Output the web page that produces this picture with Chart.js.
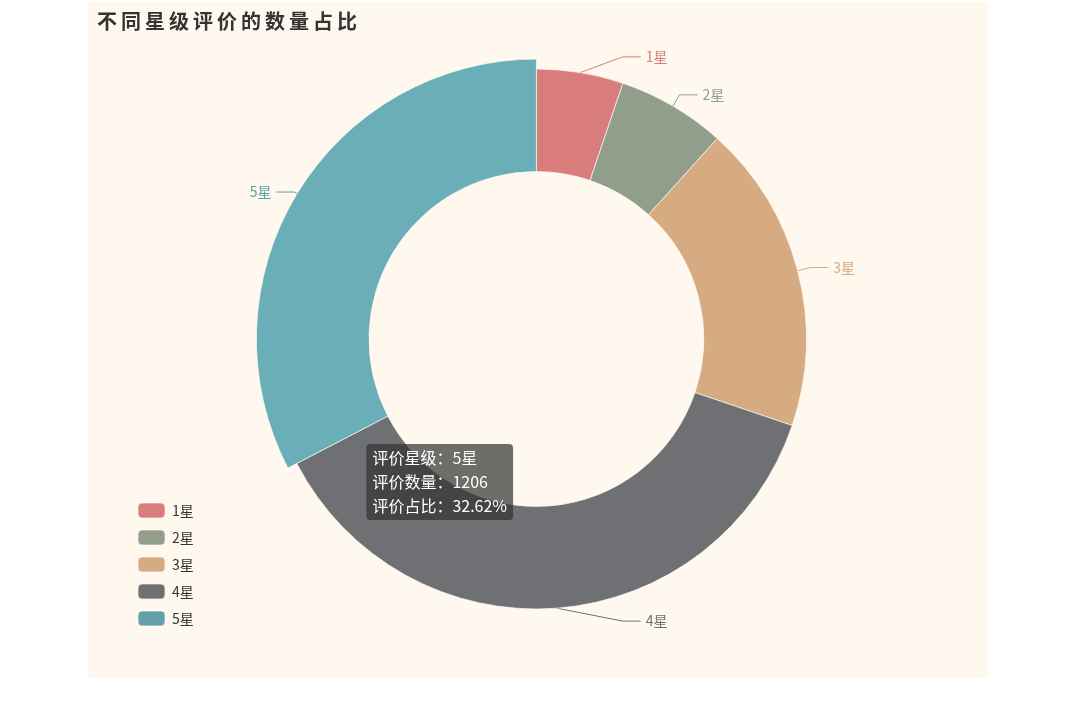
<!DOCTYPE html>
<html>
<head>
<meta charset="utf-8">
<script src="https://cdn.jsdelivr.net/npm/chart.js@4/dist/chart.umd.min.js"></script>
<style>
    body { margin: 0; background: #ffffff; }
    #box {
        position: absolute;
        left: 88px;
        top: 2px;
        width: 900px;
        height: 676px;
        background: rgb(254, 248, 239);
    }
</style>
</head>
<body>
<div id="box"><canvas id="pieChart"></canvas></div>
<script>
// data
const starLabels = ['1星', '2星', '3星', '4星', '5星'];
const reviewCounts = [192, 240, 684, 1375, 1206];

// vintage colours
const sliceColors = ['#d87c7c', '#919e8b', '#d7ab82', '#6e7074', '#61a0a8'];
const hoverColors = ['#e08c8b', '#a0ac9a', '#e0b991', '#7c7e82', '#6aafb7'];

const titleText = '不同星级评价的数量占比';
const highlightIndex = 4;

const total = reviewCounts.reduce((a, b) => a + b, 0);

// title drawn by hand so the letters can be spaced
const titlePlugin = {
    id: 'spacedTitle',
    afterDraw(chart) {
        const ctx = chart.ctx;
        ctx.save();
        ctx.font = 'bold 20px "Noto Sans CJK SC"';
        ctx.letterSpacing = '4px';
        ctx.fillStyle = '#333';
        ctx.textBaseline = 'middle';
        ctx.fillText(titleText, 9, 19);
        ctx.restore();
    }
};

// echarts-like outside labels with a bent leader line
const labelLinePlugin = {
    id: 'labelLines',
    afterDatasetsUpdate(chart) {
        // enlarge the highlighted slice like echarts emphasis
        const arc = chart.getDatasetMeta(0).data[highlightIndex];
        if (arc) arc.outerRadius = arc.outerRadius + 10;
    },
    beforeDatasetsDraw(chart) {
        const ctx = chart.ctx;
        const meta = chart.getDatasetMeta(0);
        const baseR = chart.data.datasets[0].radius;
        meta.data.forEach((arc, i) => {
            const p = arc.getProps(['x', 'y', 'startAngle', 'endAngle']);
            const mid = (p.startAngle + p.endAngle) / 2;
            // degrees clockwise from top
            let a = (mid + Math.PI / 2) * 180 / Math.PI;
            a = ((a % 360) + 360) % 360;
            let r2 = baseR + 13;
            let b = a;
            if (a < 180) {
                if (a < 17) { b = 17; r2 += 12; }
                if (a > 163) { b = 163; r2 += 12; }
            } else {
                if (a < 197) { b = 197; r2 += 12; }
                if (a > 343) { b = 343; r2 += 12; }
            }
            const sx = p.x + Math.sin(a * Math.PI / 180) * baseR;
            const sy = p.y - Math.cos(a * Math.PI / 180) * baseR;
            const ex = p.x + Math.sin(b * Math.PI / 180) * r2;
            const ey = p.y - Math.cos(b * Math.PI / 180) * r2;
            const dir = b < 180 ? 1 : -1;
            const hx = ex + dir * 18;

            ctx.save();
            ctx.strokeStyle = sliceColors[i];
            ctx.lineWidth = 1;
            ctx.beginPath();
            ctx.moveTo(sx, sy);
            ctx.lineTo(ex, ey);
            ctx.lineTo(hx, ey);
            ctx.stroke();
            ctx.font = '14px "Noto Sans CJK SC"';
            ctx.fillStyle = sliceColors[i];
            ctx.textBaseline = 'middle';
            ctx.textAlign = dir > 0 ? 'left' : 'right';
            ctx.fillText(starLabels[i], hx + dir * 5, ey);
            ctx.restore();
        });
    }
};

Chart.Tooltip.positioners.fixedSpot = function (items) {
    if (!items.length) return false;
    const el = items[0].element;
    return { x: el.x - 166, y: el.y + 105 };
};

const ctx = document.getElementById('pieChart').getContext('2d');
const pieChart = new Chart(ctx, {
    type: 'doughnut',
    data: {
        labels: starLabels,
        datasets: [{
            data: reviewCounts,
            backgroundColor: sliceColors,
            hoverBackgroundColor: hoverColors,
            borderColor: 'rgba(254, 248, 239, 0.7)',
            hoverBorderColor: 'rgba(254, 248, 239, 0.7)',
            borderWidth: 1,
            hoverOffset: 0,
            radius: 270
        }]
    },
    options: {
        responsive: true,
        maintainAspectRatio: false,
        animation: false,
        events: [],
        cutout: '62%',
        radius: 270,
        layout: {
            padding: { top: 38, bottom: 40, left: 38, right: 119 }
        },
        plugins: {
            title: { display: false },
            legend: {
                position: 'left',
                align: 'end',
                labels: {
                    boxWidth: 27,
                    boxHeight: 15,
                    padding: 12,
                    color: '#333',
                    font: { family: '"Noto Sans CJK SC"', size: 14 },
                    generateLabels: function (chart) {
                        return starLabels.map((t, i) => ({
                            text: t,
                            fillStyle: sliceColors[i],
                            strokeStyle: 'rgba(254, 248, 239, 0.7)',
                            lineWidth: 1,
                            borderRadius: 4,
                            fontColor: '#333',
                            hidden: false,
                            index: i
                        }));
                    }
                }
            },
            tooltip: {
                enabled: true,
                position: 'fixedSpot',
                xAlign: 'left',
                yAlign: 'top',
                caretSize: 0,
                caretPadding: 0,
                cornerRadius: 4,
                displayColors: false,
                backgroundColor: 'rgba(50, 50, 50, 0.7)',
                bodyColor: '#ffffff',
                bodyFont: { family: '"Noto Sans CJK SC"', size: 16, lineHeight: 1.5 },
                bodySpacing: 0,
                padding: { top: 2, bottom: 2, left: 6, right: 6 },
                callbacks: {
                    title: () => '',
                    label: function (item) {
                        const v = item.raw;
                        return [
                            '评价星级：' + item.label,
                            '评价数量：' + v,
                            '评价占比：' + (v / total * 100).toFixed(2) + '%'
                        ];
                    }
                }
            }
        }
    },
    plugins: [labelLinePlugin, titlePlugin]
});

// show the 5星 slice as hovered, like the reference
const active = [{ datasetIndex: 0, index: highlightIndex }];
pieChart.setActiveElements(active);
pieChart.tooltip.setActiveElements(active, { x: 0, y: 0 });
pieChart.update();
</script>
</body>
</html>
